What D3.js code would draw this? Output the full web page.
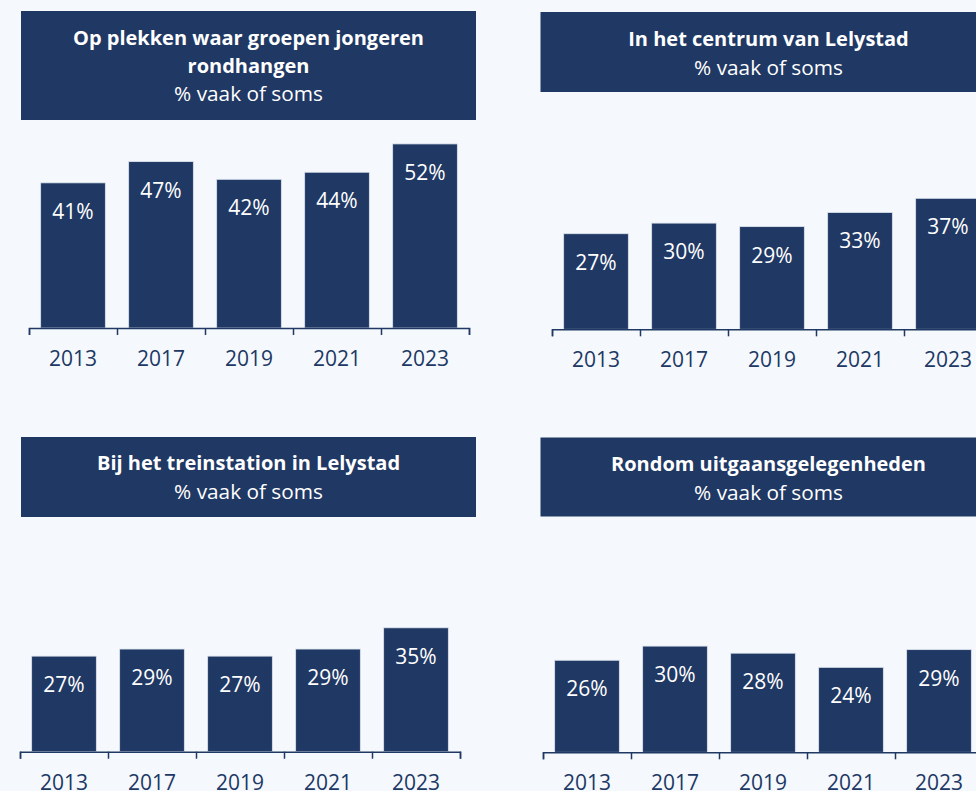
<!DOCTYPE html>
<html>
<head>
<meta charset="utf-8">
<script src="https://cdn.jsdelivr.net/npm/d3@7"></script>
<style>
  html, body { margin: 0; padding: 0; background: #f5f8fc; }
  svg { display: block; font-family: "Open Sans", "Noto Sans", sans-serif; }
</style>
</head>
<body>
<svg id="chart" width="976" height="791"></svg>
<script>
const years = ['2013', '2017', '2019', '2021', '2023']

const jongerenValues = [41, 47, 42, 44, 52]
const centrumValues = [27, 30, 29, 33, 37]
const stationValues = [27, 29, 27, 29, 35]
const uitgaanValues = [26, 30, 28, 24, 29]

const titles = [
    ['Op plekken waar groepen jongeren', 'rondhangen'],
    ['In het centrum van Lelystad'],
    ['Bij het treinstation in Lelystad'],
    ['Rondom uitgaansgelegenheden']
]
const subtitle = '% vaak of soms'

const navy = '#203864'

// layout per panel (box + axis position)
const panels = [
    { values: jongerenValues, title: titles[0], box: [21, 11, 455, 109], lines: [45, 73], sub: 101, x0: 29, x1: 469, axisY: 328 },
    { values: centrumValues, title: titles[1], box: [540.5, 12, 456, 80], lines: [45.5], sub: 75, x0: 552, x1: 992, axisY: 329.3 },
    { values: stationValues, title: titles[2], box: [21, 437, 455, 80], lines: [470], sub: 499, x0: 20, x1: 460, axisY: 751.7 },
    { values: uitgaanValues, title: titles[3], box: [540.5, 437.5, 456, 79], lines: [470.5], sub: 499.5, x0: 543, x1: 983, axisY: 752.3 }
]

const svg = d3.select('#chart')

panels.forEach(p => {
    const g = svg.append('g')
    const [bx, by, bw, bh] = p.box

    // title box
    g.append('rect')
        .attr('x', bx).attr('y', by)
        .attr('width', bw).attr('height', bh)
        .attr('fill', navy)
    p.title.forEach((t, i) => {
        g.append('text')
            .attr('x', bx + bw / 2)
            .attr('y', p.lines[i])
            .attr('text-anchor', 'middle')
            .attr('fill', '#ffffff')
            .attr('font-size', 20)
            .attr('font-weight', 'bold')
            .text(t)
    })
    g.append('text')
        .attr('x', bx + bw / 2)
        .attr('y', p.sub)
        .attr('text-anchor', 'middle')
        .attr('fill', '#ffffff')
        .attr('font-size', 20.8)
        .text(subtitle)

    // scales
    const x = d3.scaleBand()
        .domain(years)
        .range([p.x0, p.x1])
        .paddingInner(0.265)
        .paddingOuter(0.1325)
    const y = d3.scaleLinear()
        .domain([0, 100])
        .range([p.axisY, p.axisY - 354])

    // bars
    g.selectAll('rect.bar')
        .data(p.values)
        .enter()
        .append('rect')
        .attr('class', 'bar')
        .attr('x', (d, i) => x(years[i]))
        .attr('y', d => y(d))
        .attr('width', x.bandwidth())
        .attr('height', d => y(0) - y(d))
        .attr('fill', navy)
        .attr('stroke', '#dde4ee')
        .attr('stroke-width', 0.8)

    // value labels
    g.selectAll('text.val')
        .data(p.values)
        .enter()
        .append('text')
        .attr('class', 'val')
        .attr('x', (d, i) => x(years[i]) + x.bandwidth() / 2)
        .attr('y', d => y(d) + 36)
        .attr('text-anchor', 'middle')
        .attr('fill', '#ffffff')
        .attr('font-size', 21)
        .text(d => d + '%')

    // axis line with tick marks at band edges
    const edge = d3.scaleLinear().domain([0, years.length]).range([p.x0, p.x1])
    g.append('g')
        .attr('transform', `translate(0,${p.axisY})`)
        .call(d3.axisBottom(edge).tickValues(d3.range(0, years.length + 1)).tickSize(7).tickFormat(''))
        .call(a => a.selectAll('path, line').attr('stroke', navy).attr('stroke-width', 1.5))

    // year labels
    g.append('g')
        .attr('transform', `translate(0,${p.axisY})`)
        .call(d3.axisBottom(x).tickSize(0))
        .call(a => a.select('.domain').remove())
        .call(a => a.selectAll('text')
            .attr('dy', null)
            .attr('y', 38)
            .attr('fill', navy)
            .attr('font-size', 21)
            .attr('font-family', '"Open Sans", "Noto Sans", sans-serif'))
})
</script>
</body>
</html>
